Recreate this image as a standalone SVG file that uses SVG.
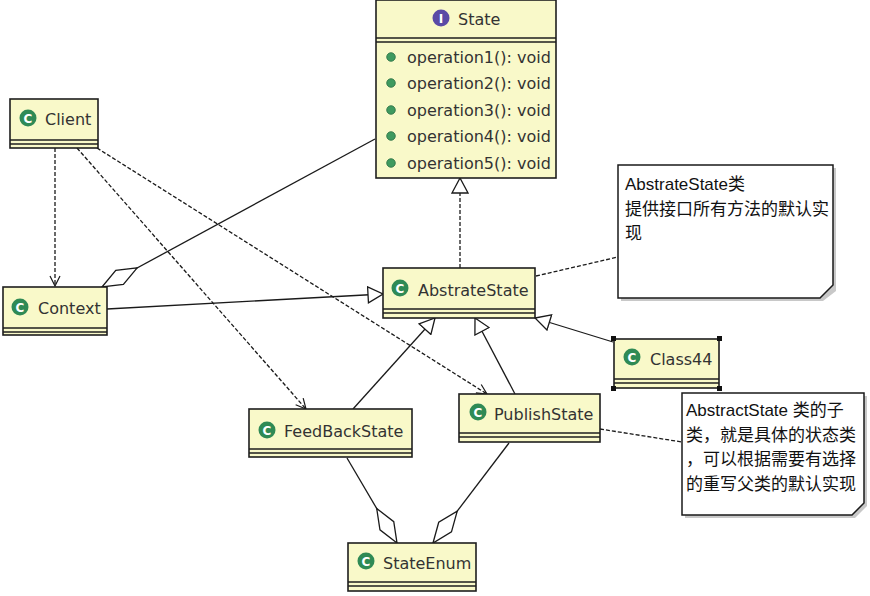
<svg xmlns="http://www.w3.org/2000/svg" width="870" height="596" viewBox="0 0 870 596">
<style>
.box{fill:#f9f9c9;stroke:#1e1e1e;stroke-width:1.6}
.sep{stroke:#1e1e1e;stroke-width:1.4}
.lbl{font-family:"DejaVu Sans",sans-serif;font-size:16px;fill:#333}
.ic{fill:#2f8a55}
.ict{font-family:"DejaVu Sans",sans-serif;font-size:12px;font-weight:bold;fill:#fff;text-anchor:middle}
.dot{fill:#3f9a5f;stroke:#2a6e42;stroke-width:0.8}
.ln{fill:none;stroke:#1a1a1a;stroke-width:1.3}
.dash{stroke-dasharray:4 2}
.note{fill:#fff;stroke:#1a1a1a;stroke-width:1.5}
.shadow{fill:#c8c8c8}
.nt{font-family:"Liberation Sans","Noto Sans CJK SC",sans-serif;font-size:17px;fill:#111}
.h{fill:#111}
</style>
<defs>
<marker id="tri" markerUnits="userSpaceOnUse" viewBox="-16 -9 17 18" markerWidth="17" markerHeight="18" refX="0" refY="0" orient="auto">
<path d="M-15,-8 L0,0 L-15,8 Z" fill="#fff" stroke="#1a1a1a" stroke-width="1.3"/>
</marker>
<marker id="dia" markerUnits="userSpaceOnUse" viewBox="-1 -9 42 18" markerWidth="42" markerHeight="18" refX="0" refY="0" orient="auto">
<path d="M0,0 L20,-8 L40,0 L20,8 Z" fill="#fff" stroke="#1a1a1a" stroke-width="1.3"/>
</marker>
<marker id="open" markerUnits="userSpaceOnUse" viewBox="-12 -7 13 14" markerWidth="13" markerHeight="14" refX="0" refY="0" orient="auto">
<path d="M-10,-5 L0,0 L-10,5" fill="none" stroke="#1a1a1a" stroke-width="1.2"/>
</marker>
</defs>
<rect width="870" height="596" fill="#fff"/>

<g id="connectors">
<line class="ln dash" x1="55" y1="148" x2="55" y2="286" marker-end="url(#open)"/>
<line class="ln dash" x1="77" y1="148" x2="306" y2="409" marker-end="url(#open)"/>
<line class="ln dash" x1="97" y1="148" x2="487" y2="394" marker-end="url(#open)"/>
<line class="ln" x1="102" y1="287" x2="375" y2="139" marker-start="url(#dia)"/>
<line class="ln" x1="107" y1="309" x2="383" y2="294" marker-end="url(#tri)"/>
<line class="ln dash" x1="460" y1="268" x2="460" y2="178" marker-end="url(#tri)"/>
<line class="ln dash" x1="536" y1="276" x2="618" y2="257"/>
<line class="ln" x1="613" y1="342" x2="535" y2="318" marker-end="url(#tri)"/>
<line class="ln" x1="353" y1="409" x2="435" y2="318" marker-end="url(#tri)"/>
<line class="ln" x1="515" y1="394" x2="475" y2="318" marker-end="url(#tri)"/>
<line class="ln" x1="397" y1="543" x2="347" y2="458" marker-start="url(#dia)"/>
<line class="ln" x1="433" y1="543" x2="509" y2="443" marker-start="url(#dia)"/>
<line class="ln dash" x1="600" y1="429" x2="682" y2="442"/>
</g>

<g id="State">
<rect class="box" x="376" y="0" width="180" height="178"/>
<line class="sep" x1="376" y1="38" x2="556" y2="38"/>
<line class="sep" x1="376" y1="42" x2="556" y2="42"/>
<circle cx="441" cy="18" r="8.5" fill="#5a4aa6"/>
<text class="ict" x="441" y="22.5">I</text>
<text class="lbl" x="458" y="25">State</text>
<circle class="dot" cx="391" cy="57" r="4.3"/>
<text class="lbl" x="407" y="63">operation1(): void</text>
<circle class="dot" cx="391" cy="83" r="4.3"/>
<text class="lbl" x="407" y="89">operation2(): void</text>
<circle class="dot" cx="391" cy="110" r="4.3"/>
<text class="lbl" x="407" y="116">operation3(): void</text>
<circle class="dot" cx="391" cy="136" r="4.3"/>
<text class="lbl" x="407" y="142">operation4(): void</text>
<circle class="dot" cx="391" cy="163" r="4.3"/>
<text class="lbl" x="407" y="169">operation5(): void</text>
</g>

<g id="Client">
<rect class="box" x="10" y="99" width="88" height="49"/>
<line class="sep" x1="10" y1="140" x2="98" y2="140"/>
<line class="sep" x1="10" y1="144" x2="98" y2="144"/>
<circle class="ic" cx="28" cy="118" r="8.5"/>
<text class="ict" x="28" y="122.5">C</text>
<text class="lbl" x="45" y="125">Client</text>
</g>

<g id="Context">
<rect class="box" x="3" y="287" width="104" height="48"/>
<line class="sep" x1="3" y1="328" x2="107" y2="328"/>
<line class="sep" x1="3" y1="332" x2="107" y2="332"/>
<circle class="ic" cx="20" cy="307" r="8.5"/>
<text class="ict" x="20" y="311.5">C</text>
<text class="lbl" x="38" y="314">Context</text>
</g>

<g id="AbstrateState">
<rect class="box" x="383" y="268" width="152" height="50"/>
<line class="sep" x1="383" y1="309" x2="535" y2="309"/>
<line class="sep" x1="383" y1="313" x2="535" y2="313"/>
<circle class="ic" cx="400" cy="288" r="8.5"/>
<text class="ict" x="400" y="292.5">C</text>
<text class="lbl" x="418" y="296">AbstrateState</text>
</g>

<g id="Class44">
<rect class="box" x="614" y="339" width="105" height="49" stroke-width="2.6"/>
<line class="sep" x1="614" y1="379" x2="719" y2="379"/>
<line class="sep" x1="614" y1="383" x2="719" y2="383" stroke-width="2"/>
<rect class="h" x="611" y="336" width="5" height="5"/>
<rect class="h" x="717" y="336" width="5" height="5"/>
<rect class="h" x="611" y="386" width="5" height="5"/>
<rect class="h" x="717" y="386" width="5" height="5"/>
<circle class="ic" cx="632" cy="357" r="8.5"/>
<text class="ict" x="632" y="361.5">C</text>
<text class="lbl" x="650" y="365">Class44</text>
</g>

<g id="FeedBackState">
<rect class="box" x="249" y="409" width="163" height="48"/>
<line class="sep" x1="249" y1="449" x2="412" y2="449"/>
<line class="sep" x1="249" y1="453" x2="412" y2="453"/>
<circle class="ic" cx="267" cy="430" r="8.5"/>
<text class="ict" x="267" y="434.5">C</text>
<text class="lbl" x="284" y="437">FeedBackState</text>
</g>

<g id="PublishState">
<rect class="box" x="459" y="394" width="141" height="48"/>
<line class="sep" x1="459" y1="433" x2="600" y2="433"/>
<line class="sep" x1="459" y1="437" x2="600" y2="437"/>
<circle class="ic" cx="478" cy="412" r="8.5"/>
<text class="ict" x="478" y="416.5">C</text>
<text class="lbl" x="494" y="420">PublishState</text>
</g>

<g id="StateEnum">
<rect class="box" x="348" y="543" width="128" height="48"/>
<line class="sep" x1="348" y1="582" x2="476" y2="582"/>
<line class="sep" x1="348" y1="586" x2="476" y2="586"/>
<circle class="ic" cx="366" cy="561" r="8.5"/>
<text class="ict" x="366" y="565.5">C</text>
<text class="lbl" x="383" y="569">StateEnum</text>
</g>

<g id="Note1">
<polygon class="shadow" points="621,168 836,168 836,291 823,301 621,301"/>
<polygon class="note" points="618,165 833,165 833,285 820,298 618,298"/>
<text class="nt" x="625" y="190">AbstrateState类</text>
<text class="nt" x="625" y="215">提供接口所有方法的默认实</text>
<text class="nt" x="625" y="239">现</text>
</g>

<g id="Note2">
<polygon class="shadow" points="685,396 867,396 867,506 855,518 685,518"/>
<polygon class="note" points="682,393 864,393 864,503 852,515 682,515"/>
<text class="nt" x="686" y="416">AbstractState 类的子</text>
<text class="nt" x="686" y="441">类，就是具体的状态类</text>
<text class="nt" x="686" y="465">，可以根据需要有选择</text>
<text class="nt" x="686" y="490">的重写父类的默认实现</text>
</g>
</svg>
